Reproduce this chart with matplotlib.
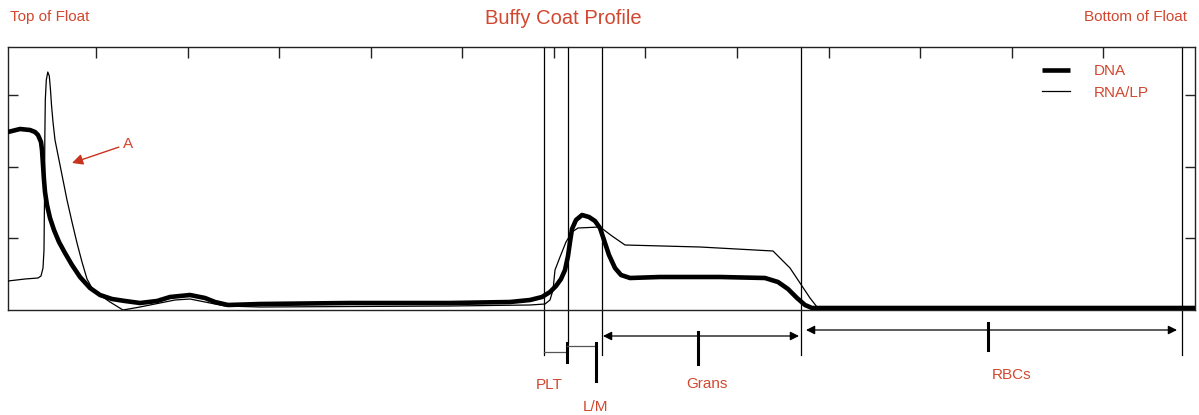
import matplotlib
matplotlib.use("Agg")
import matplotlib.pyplot as plt
import numpy as np

plt.rcParams['font.family'] = ['Liberation Sans', 'DejaVu Sans']

# Scan position along the float (arbitrary units) and fluorescence intensity
dna_x = [0, 12, 22, 27, 30, 33, 34, 35, 36, 37, 39, 42, 46, 51, 57, 64, 72, 82, 92, 104, 117,
         132, 149, 162, 182, 197, 207, 220, 252, 342, 442, 502, 522, 534, 542, 548, 553, 557,
         560, 562, 564, 568, 574, 581, 587, 592, 596, 601, 607, 613, 622, 652, 712, 757, 770,
         780, 789, 797, 804, 1187]
dna_y = [178, 181, 180, 178, 175, 168, 160, 145, 130, 118, 105, 92, 80, 68, 57, 45, 33, 22, 15,
         11, 9, 7, 9, 13, 15, 12, 8, 5, 6, 7, 7, 8, 10, 13, 18, 24, 31, 40,
         54, 68, 81, 90, 95, 93, 89, 82, 70, 55, 42, 35, 32, 33, 33, 32, 28,
         21, 12, 5, 2, 2]

rna_x = [0, 17, 30, 33, 35, 36, 36.5, 36.8, 37.3, 38.3, 39.8, 41.3, 42.5, 43.5, 45, 47, 49, 54,
         59, 64, 69, 74, 79, 85, 92, 102, 115, 132, 152, 167, 182, 197, 217, 252, 442, 522, 537,
         542, 545, 547, 552, 558, 564, 570, 592, 604, 617, 692, 765, 782, 792, 802, 809]
rna_y = [29, 31, 32, 34, 42, 60, 110, 170, 210, 230, 238, 234, 220, 205, 188, 170, 160, 135,
         110, 88, 67, 48, 31, 20, 15, 8, 0, 3, 7, 10, 11, 8, 4, 3, 4, 5, 6,
         10, 20, 40, 53, 68, 78, 82, 83, 74, 65, 63, 59, 42, 27, 12, 3]

# Zone boundaries along the float
zone_bounds = [536, 560, 594, 793, 1174]
zone_labels = ["PLT", "L/M", "Grans", "RBCs"]

RED = '#d2472f'
ARROW_RED = '#c9331d'

fig = plt.figure(figsize=(11.99, 4.15), dpi=100)
ax = fig.add_axes([8 / 1199, 1 - 310 / 415, 1187 / 1199, 263 / 415])
ax.set_xlim(0, 1187)
ax.set_ylim(0, 263)

for s in ax.spines.values():
    s.set_linewidth(1.0)
    s.set_color('#222222')

ax.plot(rna_x, rna_y, color='black', lw=0.9, solid_joinstyle='round', label='RNA/LP', zorder=3)
ax.plot(dna_x, dna_y, color='black', lw=3.3, solid_joinstyle='round',
        solid_capstyle='butt', label='DNA', zorder=4)

# Ticks: top and both sides, pointing inward, no labels
ax.set_xticks(88 + 91.58 * np.arange(12))
ax.set_yticks(71.7 * np.arange(1, 4))
ax.tick_params(axis='x', which='both', direction='in', top=True, bottom=False,
               labeltop=False, labelbottom=False, length=8, width=1.0, color='#222222')
ax.tick_params(axis='y', which='both', direction='in', left=True, right=True,
               labelleft=False, labelright=False, length=7.5, width=1.0, color='#222222')

# Zone boundary lines, running from the top of the plot to below it
for xb in zone_bounds:
    bottom = -33 if xb == zone_bounds[1] else -45
    ax.plot([xb, xb], [263, bottom], color='black', lw=0.9, clip_on=False, zorder=2)

# PLT bracket
ax.plot([zone_bounds[0], zone_bounds[1] - 1], [-42, -42], color='#555555', lw=0.9, clip_on=False)
ax.plot([zone_bounds[1] - 1, zone_bounds[1] - 1], [-33, -52], color='black', lw=2.2, clip_on=False)
# L/M bracket
ax.plot([zone_bounds[1] - 1, 588], [-36, -36], color='#555555', lw=0.9, clip_on=False)
ax.plot([588, 588], [-33, -71], color='black', lw=2.2, clip_on=False)

# Grans double arrow
arrow_kw = dict(arrowstyle='<|-|>', color='black', lw=0.9, mutation_scale=13,
                shrinkA=0, shrinkB=0)
ax.annotate('', xy=(zone_bounds[2] + 1, -26), xytext=(zone_bounds[3] - 2, -26),
            arrowprops=arrow_kw, annotation_clip=False)
ax.plot([690, 690], [-22, -54], color='black', lw=2.2, clip_on=False)
# RBCs double arrow
ax.annotate('', xy=(zone_bounds[3] + 5, -20), xytext=(zone_bounds[4] - 5, -20),
            arrowprops=arrow_kw, annotation_clip=False)
ax.plot([980, 980], [-13, -40], color='black', lw=2.2, clip_on=False)

label_kw = dict(color=RED, fontsize=11, ha='center', va='center', clip_on=False)
ax.text(541, -75, zone_labels[0], **label_kw)
ax.text(587, -97, zone_labels[1], **label_kw)
ax.text(699, -74, zone_labels[2], **label_kw)
ax.text(1004, -65, zone_labels[3], **label_kw)

# Callout "A"
ax.annotate('A', xy=(64, 147), xytext=(120, 166), color=RED, fontsize=11,
            ha='center', va='center',
            arrowprops=dict(arrowstyle='-|>', color=ARROW_RED, lw=1.0,
                            mutation_scale=16, shrinkA=1, shrinkB=0))

# Legend
handles, labels = ax.get_legend_handles_labels()
leg = ax.legend(handles[::-1], labels[::-1], loc='upper left',
                bbox_to_anchor=(1042 / 1199, 1 - 64 / 415), bbox_transform=fig.transFigure,
                frameon=False, fontsize=11, handlelength=1.85, handletextpad=1.55,
                labelspacing=0.5, borderpad=0, borderaxespad=0, labelcolor=RED)

# Header texts
fig.text(10 / 1199, 1 - 17 / 415, "Top of Float", color=RED, fontsize=11, ha='left', va='center')
fig.text(563 / 1199, 1 - 18 / 415, "Buffy Coat Profile", color=RED, fontsize=14.5,
         ha='center', va='center')
fig.text(1187 / 1199, 1 - 17 / 415, "Bottom of Float", color=RED, fontsize=11,
         ha='right', va='center')

fig.savefig('out.png', dpi=100)
